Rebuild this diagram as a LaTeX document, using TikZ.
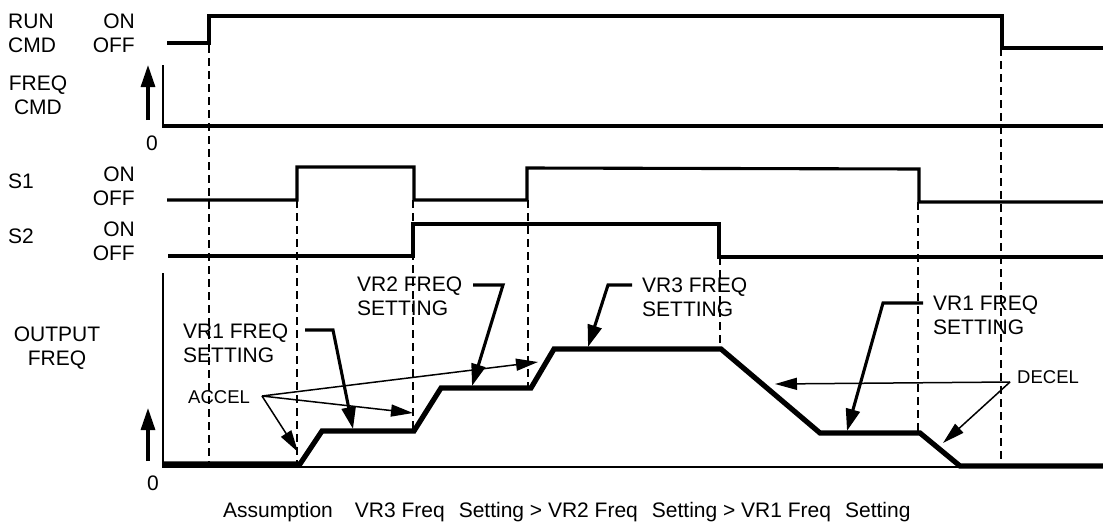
\documentclass[tikz,border=0pt]{standalone}
\usepackage{fontspec}
\setmainfont{Liberation Sans}
\usetikzlibrary{arrows.meta}
\tikzset{
  sig/.style={line width=3.1pt, line join=miter},
  prof/.style={line width=5.2pt, line join=miter},
  axisline/.style={line width=1.9pt},
  guide/.style={line width=1.3pt, dash pattern=on 8pt off 5pt},
  lbl/.style={font=\fontsize{21}{24}\selectfont, inner sep=0pt},
  small/.style={font=\fontsize{18.5}{20}\selectfont, inner sep=0pt},
  leader/.style={line width=3.1pt, line join=miter, -{Triangle[length=22pt,width=14pt]}},
  thinarrow/.style={line width=1.5pt, -{Triangle[length=22pt,width=12pt]}},
  uparrow/.style={line width=3.1pt, -{Triangle[length=22pt,width=14pt]}}
}
\begin{document}
\begin{tikzpicture}[x=1pt,y=-1pt]
\useasboundingbox (0,0) rectangle (1103,528);

% ---- left labels
\node[lbl, anchor=west, align=left] (run) at (8,33) {RUN\\CMD};
\node[lbl, anchor=east, align=right] (runon) at (135,33) {ON\\OFF};
\node[lbl, align=center] (fcmd) at (38,95) {FREQ\\CMD};
\node[lbl] (zero1) at (152,143) {0};
\node[lbl, anchor=west] (s1) at (8,181) {S1};
\node[lbl, anchor=east, align=right] (s1on) at (135,186) {ON\\OFF};
\node[lbl, anchor=west] (s2) at (8,236) {S2};
\node[lbl, anchor=east, align=right] (s2on) at (135,241) {ON\\OFF};
\node[lbl, align=center] (ofreq) at (57,348) {OUTPUT\\FREQ};
\node[lbl] (zero2) at (153,483) {0};

% ---- up arrows
\coordinate (fa0) at (148,120);
\coordinate (fa1) at (148,65);
\draw[uparrow] (fa0) -- (fa1);
\coordinate (oa0) at (148,461);
\coordinate (oa1) at (148,408);
\draw[uparrow] (oa0) -- (oa1);

% ---- guide lines
\draw[guide] (209,45) -- (209,462);
\draw[guide] (297,200) -- (297,463);
\draw[guide] (413,200) -- (413,431);
\draw[guide] (528,200) -- (528,388);
\draw[guide] (720,257) -- (720,349);
\draw[guide] (918,202) -- (918,433);
\draw[guide] (1001,48) -- (1001,462);

% ---- RUN CMD
\draw[sig] (167,43) -- (209,43) -- (209,16) -- (1002,16) -- (1002,48) -- (1103,48);
% ---- FREQ CMD
\draw[axisline] (163,65) -- (163,126);
\draw[sig] (162,126) -- (1103,126);
% ---- S1
\draw[sig] (167,200) -- (297,200) -- (297,167) -- (414,167) -- (414,200) -- (527,200) -- (527,168) -- (919,169) -- (919,202) -- (1103,202);
% ---- S2
\draw[sig] (168,256) -- (413,256) -- (413,224) -- (719,224) -- (719,257) -- (1103,257);

% ---- output freq axes and profile
\draw[axisline] (163,273) -- (163,467) -- (1103,467);
\draw[prof] (163,464) -- (300,464) -- (322,431) -- (414,431) -- (441,388) -- (531,388) -- (554,349) -- (721,349) -- (820,433) -- (920,433) -- (960,466) -- (1103,466);

% ---- setting labels and leaders
\node[lbl, anchor=west, align=left] (vr1a) at (183,343) {VR1 FREQ\\SETTING};
\node[lbl, anchor=west, align=left] (vr2) at (357,296) {VR2 FREQ\\SETTING};
\node[lbl, anchor=west, align=left] (vr3) at (642,297) {VR3 FREQ\\SETTING};
\node[lbl, anchor=west, align=left] (vr1b) at (933,315) {VR1 FREQ\\SETTING};

\coordinate (l1s) at (305,330); \coordinate (l1k) at (333,330); \coordinate (l1t) at (353,429);
\draw[leader] (l1s) -- (l1k) -- (l1t);
\coordinate (l2s) at (473,285); \coordinate (l2k) at (503,285); \coordinate (l2t) at (472,386);
\draw[leader] (l2s) -- (l2k) -- (l2t);
\coordinate (l3s) at (632,285); \coordinate (l3k) at (608,285); \coordinate (l3t) at (588,347);
\draw[leader] (l3s) -- (l3k) -- (l3t);
\coordinate (l4s) at (923,303); \coordinate (l4k) at (883,303); \coordinate (l4t) at (847,431);
\draw[leader] (l4s) -- (l4k) -- (l4t);

% ---- ACCEL / DECEL
\node[small, anchor=west] (accel) at (188,397) {ACCEL};
\coordinate (ao) at (262,396);
\coordinate (at1) at (298,452);
\coordinate (at2) at (413,413);
\coordinate (at3) at (538,362);
\draw[thinarrow] (ao) -- (at1);
\draw[thinarrow] (ao) -- (at2);
\draw[thinarrow] (ao) -- (at3);

\node[small, anchor=west] (decel) at (1017,377) {DECEL};
\coordinate (do) at (1010,382);
\coordinate (dt1) at (775,384);
\coordinate (dt2) at (943,443);
\draw[thinarrow] (do) -- (dt1);
\draw[thinarrow] (do) -- (dt2);

% ---- bottom note
\node[lbl, anchor=west] (note) at (223,512) {Assumption\hspace{22pt}VR3 Freq\hspace{14pt}Setting > VR2 Freq\hspace{14pt}Setting > VR1 Freq\hspace{14pt}Setting};
\end{tikzpicture}
\end{document}
